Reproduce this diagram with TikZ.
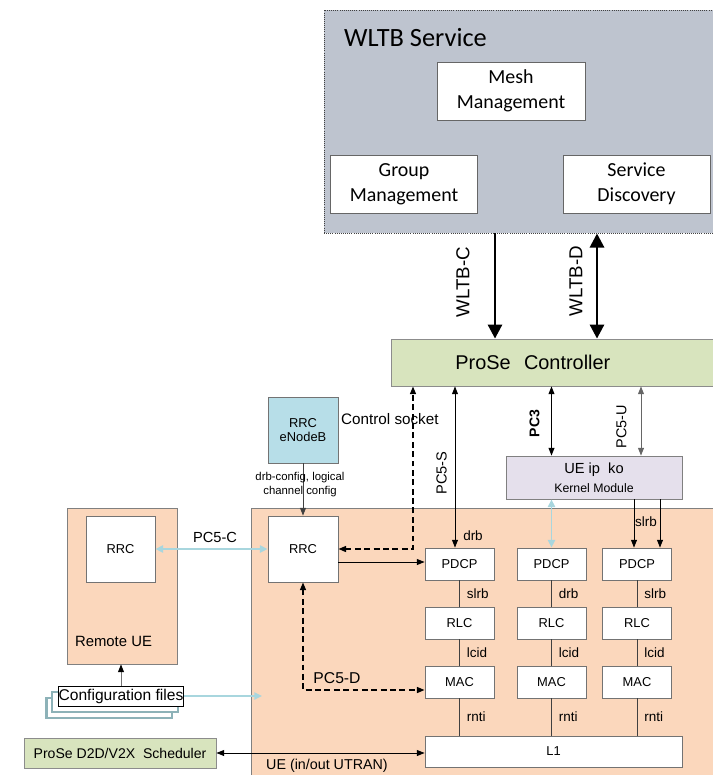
\documentclass[tikz,border=0pt]{standalone}
\usepackage{fontspec}
\setmainfont{Liberation Sans}
\newfontfamily\calibri{Carlito}
\usetikzlibrary{arrows.meta,shadows}

\definecolor{wltbgray}{RGB}{190,196,207}
\definecolor{prosegreen}{RGB}{216,228,190}
\definecolor{uepeach}{RGB}{251,215,188}
\definecolor{kmlilac}{RGB}{229,224,236}
\definecolor{enbblue}{RGB}{183,222,232}
\definecolor{linkblue}{RGB}{168,214,222}
\definecolor{pageteal}{RGB}{141,178,184}

\newcommand{\fsz}[2]{\fontsize{#1}{#2}\selectfont}

\tikzset{
  >={Triangle[length=6.5pt,width=5pt]},
  every node/.style={inner sep=0pt},
  wltbbox/.style={draw=black!75, densely dotted, line width=0.8pt, fill=wltbgray},
  funcbox/.style={draw=black!60, line width=0.7pt, fill=white, align=center,
    minimum width=4.41cm, minimum height=1.74cm, font=\calibri\fsz{17}{21}},
  ctrlbox/.style={draw=black!45, line width=0.7pt, fill=prosegreen},
  uebox/.style={draw=black!50, line width=0.7pt, fill=uepeach},
  layer/.style={draw=black!55, line width=0.7pt, fill=white, minimum width=2.07cm,
    minimum height=0.96cm, font=\fsz{11}{13}},
  lbl/.style={font=\fsz{11.5}{14}},
  thinline/.style={draw=black!75, line width=0.7pt},
  bigarrow/.style={line width=2.4pt, >={Triangle[length=12pt,width=12pt]}},
  dasharrow/.style={line width=1.4pt, dash pattern=on 5pt off 3pt},
  linkarrow/.style={draw=linkblue, line width=1.6pt, >={Triangle[length=6.5pt,width=6pt]}},
  cfgbox/.style={draw=black, line width=0.8pt, fill=white, font=\fsz{13.3}{15},
    inner xsep=0.5pt, minimum height=0.6cm,
    general shadow={shadow xshift=-10pt, shadow yshift=-10pt, fill=white, draw=pageteal, line width=2pt},
    general shadow={shadow xshift=-5pt, shadow yshift=-5pt, fill=white, draw=pageteal, line width=2pt}}
}

\begin{document}
\begin{tikzpicture}[x=0.03cm, y=-0.03cm]
  \useasboundingbox (0,0) rectangle (713,775);
  \clip (0,0) rectangle (713,775);

  % WLTB service
  \node[wltbbox, minimum width=12.18cm, minimum height=6.69cm] (wltb) at (527,121.5) {};
  \node[anchor=west, font=\calibri\fsz{22.5}{26}] (wltbtitle) at (344,38) {WLTB Service};
  \node[funcbox, minimum width=4.44cm] (mesh) at (511,91) {Mesh\\Management};
  \node[funcbox] (group) at (404,184) {Group\\Management};
  \node[funcbox] (disc) at (636.5,184) {Service\\Discovery};

  % ProSe controller
  \node[ctrlbox, anchor=west, text width=6.63cm, inner xsep=1.92cm, minimum height=1.41cm,
    align=left, font=\fsz{17}{20}] (prose) at (391,362.5) {ProSe\ \ Controller};
  \coordinate (xwc) at (495,0);
  \coordinate (xwd) at (597,0);
  \draw[bigarrow, ->] (wltb.south -| xwc) -- (prose.north -| xwc);
  \draw[bigarrow, <->] (wltb.south -| xwd) -- (prose.north -| xwd);
  \node[rotate=90, font=\fsz{16}{19}] (lblwc) at (463,282) {WLTB-C};
  \node[rotate=90, font=\fsz{16}{19}] (lblwd) at (576,281) {WLTB-D};

  % UE boxes
  \node[uebox, minimum width=14.67cm, minimum height=8.46cm] (ue) at (495.5,649) {};
  \node[uebox, minimum width=3.3cm, minimum height=4.68cm] (remote) at (122,586) {};
  \node[font=\fsz{12.7}{15}] (remotelbl) at (113.5,641) {Remote UE};
  \node[anchor=west, font=\fsz{12.2}{15}] (uelbl) at (266,766) {UE (in/out UTRAN)};

  % RRC blocks
  \node[layer, minimum width=2.07cm, minimum height=1.98cm] (rrcrem) at (120.5,549) {RRC};
  \node[layer, minimum width=2.1cm, minimum height=1.98cm] (rrc) at (303,549) {RRC};
  \node[layer, fill=enbblue, minimum width=2.1cm, minimum height=1.98cm, align=center,
    font=\fsz{11}{12.5}] (enb) at (303,430) {RRC\\eNodeB};
  \draw[thinline, ->] (enb) -- (rrc);
  \node[align=center, font=\fsz{9.7}{12}] (cfglbl) at (300,485) {drb-config, logical\\channel config};
  \node[anchor=west, font=\fsz{13}{15}] (sockl) at (341,419) {Control socket};

  % protocol stacks
  \node[layer] (pdcpA) at (459.5,564) {PDCP};
  \node[layer] (rlcA) at (459.5,623) {RLC};
  \node[layer] (macA) at (459.5,682) {MAC};
  \node[layer] (pdcpB) at (551.5,564) {PDCP};
  \node[layer] (rlcB) at (551.5,623) {RLC};
  \node[layer] (macB) at (551.5,682) {MAC};
  \node[layer] (pdcpC) at (637,564) {PDCP};
  \node[layer] (rlcC) at (637,623) {RLC};
  \node[layer] (macC) at (637,682) {MAC};
  \node[layer, minimum width=7.71cm, minimum height=0.93cm] (lone) at (553.5,751.5) {L1};

  \draw[thinline] (pdcpA) -- (rlcA) node[lbl, midway, right=6pt] (lsA) {slrb};
  \draw[thinline] (rlcA) -- (macA) node[lbl, midway, right=6pt] (llA) {lcid};
  \draw[thinline] (macA) -- (macA |- lone.north) node[lbl, midway, right=6pt] (lrA) {rnti};
  \draw[thinline] (pdcpB) -- (rlcB) node[lbl, midway, right=6pt] (lsB) {drb};
  \draw[thinline] (rlcB) -- (macB) node[lbl, midway, right=6pt] (llB) {lcid};
  \draw[thinline] (macB) -- (macB |- lone.north) node[lbl, midway, right=6pt] (lrB) {rnti};
  \draw[thinline] (pdcpC) -- (rlcC) node[lbl, midway, right=6pt] (lsC) {slrb};
  \draw[thinline] (rlcC) -- (macC) node[lbl, midway, right=6pt] (llC) {lcid};
  \draw[thinline] (macC) -- (macC |- lone.north) node[lbl, midway, right=6pt] (lrC) {rnti};

  % kernel module
  \node[draw=black!50, line width=0.7pt, fill=kmlilac, minimum width=5.28cm, minimum height=1.29cm,
    align=center, font=\fsz{10.5}{16}] (ueip) at (594,477.5) {{\fsz{12.5}{16}UE ip\ \ ko}\\Kernel Module};

  % links from the controller
  \coordinate (xsock) at (413,0);
  \coordinate (xpcs) at (455,0);
  \coordinate (xpcu) at (641,0);
  \coordinate (xslA) at (634,0);
  \coordinate (xslB) at (660,0);
  \coordinate (yrp) at (0,562);
  \coordinate (ypcd) at (0,690);
  \draw[dasharrow, <->] (rrc.east) -| (prose.south -| xsock);
  \draw[line width=0.8pt, <->] (prose.south -| xpcs) -- (pdcpA.north -| xpcs);
  \node[rotate=90, font=\fsz{12.5}{15}] (lblps) at (441.5,473) {PC5-S};
  \node[lbl] (lbldrb) at (473,536) {drb};
  \draw[line width=0.8pt, <->] (prose.south -| pdcpB) -- (ueip.north -| pdcpB);
  \node[rotate=90, font=\bfseries\fsz{12}{14}] (lblpc3) at (534.5,423.5) {PC3};
  \draw[draw=black!60, line width=0.8pt, <->] (prose.south -| xpcu) -- (ueip.north -| xpcu);
  \node[rotate=90, font=\fsz{12.3}{15}] (lblpu) at (621.5,426.5) {PC5-U};
  \draw[linkarrow, <->] (ueip.south -| pdcpB) -- (pdcpB.north);
  \draw[line width=0.8pt, ->] (ueip.south -| xslA) -- (pdcpC.north -| xslA);
  \draw[line width=0.8pt, ->] (ueip.south -| xslB) -- (pdcpC.north -| xslB);
  \node[lbl] (lblsl) at (646,522) {slrb};

  % RRC links
  \draw[line width=0.8pt, ->] (rrc.east |- yrp) -- (pdcpA.west |- yrp);
  \draw[dasharrow, <->] (rrc.south) |- (macA.west |- ypcd);
  \node[font=\fsz{13.4}{16}] (lblpd) at (337,678) {PC5-D};
  \draw[linkarrow, <->] (rrcrem) -- (rrc);
  \node[font=\fsz{12.5}{15}] (lblpc) at (215,537) {PC5-C};

  % configuration files and scheduler
  \node[cfgbox] (cfg) at (121,696) {Configuration files};
  \coordinate (cfgend) at (262,696);
  \draw[draw=black!55, line width=0.8pt, -{Triangle[length=6.5pt,width=5pt,black]}] (cfg.north) -- (remote.south -| cfg.north);
  \draw[linkarrow, ->] (cfg.east) -- (cfgend);
  \node[ctrlbox, minimum width=5.76cm, minimum height=0.9cm, font=\fsz{12}{14}] (sched) at (120,753) {ProSe D2D/V2X\ \ Scheduler};
  \draw[line width=0.8pt, <->] (sched.east) -- (sched.east -| lone.west);
\end{tikzpicture}
\end{document}
